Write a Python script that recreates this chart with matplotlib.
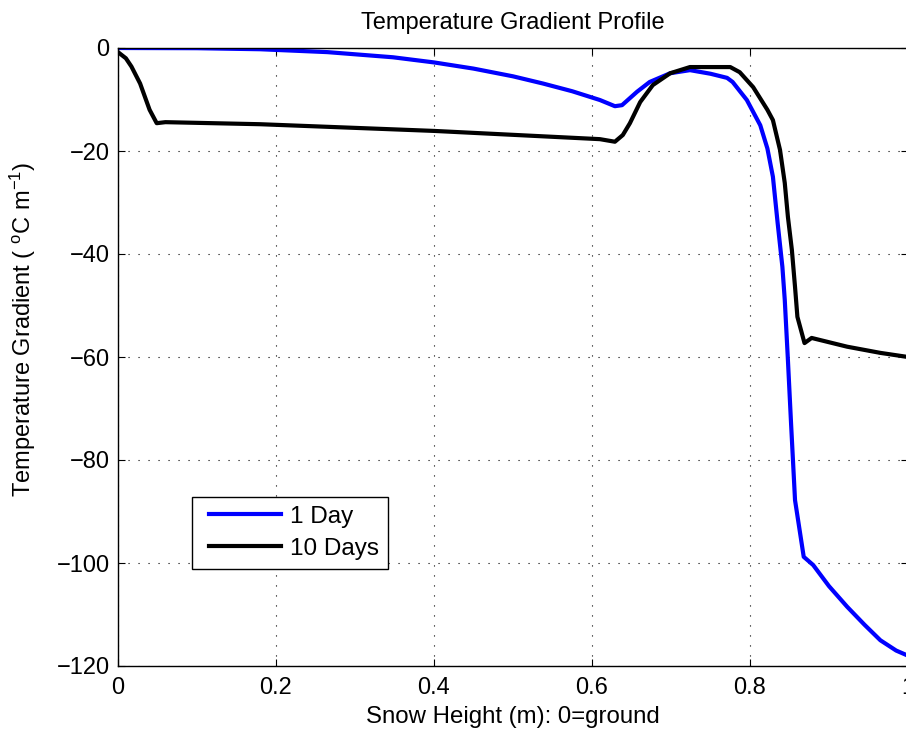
import matplotlib
matplotlib.use('Agg')
import matplotlib.pyplot as plt
from matplotlib.legend_handler import HandlerLine2D

plt.rcParams['font.family'] = ['Liberation Sans', 'DejaVu Sans']
plt.rcParams['mathtext.fontset'] = 'custom'
plt.rcParams['mathtext.rm'] = 'Liberation Sans'
plt.rcParams['mathtext.it'] = 'Liberation Sans'

# snow height (m) and gradient values
x_1day = [0, 0.1, 0.18, 0.265, 0.348, 0.4, 0.45, 0.5, 0.538, 0.575, 0.61, 0.629, 0.638,
          0.657, 0.673, 0.699, 0.724, 0.75, 0.771, 0.778, 0.796, 0.813, 0.822, 0.829,
          0.835, 0.841, 0.844, 0.848, 0.852, 0.857, 0.868, 0.88, 0.9, 0.923, 0.945,
          0.965, 0.985, 1.0]
y_1day = [0, -0.04, -0.24, -0.8, -1.8, -2.8, -4.0, -5.5, -6.9, -8.4, -10.1, -11.3, -11.1,
          -8.5, -6.6, -4.9, -4.3, -5.0, -5.8, -6.6, -10.1, -15.0, -19.5, -25.0,
          -34.0, -42.5, -48.9, -60.6, -73.0, -87.8, -98.8, -100.4, -104.5, -108.5, -112,
          -115, -117, -118]

x_10days = [0, 0.01, 0.017, 0.028, 0.04, 0.049, 0.06, 0.18, 0.4, 0.61, 0.629, 0.639,
            0.648, 0.661, 0.677, 0.699, 0.724, 0.775, 0.787, 0.804, 0.822, 0.829,
            0.838, 0.844, 0.848, 0.853, 0.857, 0.860, 0.869, 0.878, 0.923, 0.965, 1.0]
y_10days = [-0.8, -2.0, -3.6, -6.9, -12, -14.6, -14.4, -14.8, -16.1, -17.7, -18.2, -16.9,
            -14.6, -10.5, -7.2, -4.9, -3.7, -3.7, -4.7, -7.6, -12, -14.0,
            -19.8, -26.2, -32.8, -39.2, -46.4, -52.2, -57.3, -56.3, -58, -59.2, -60]

xticks = [0, 0.2, 0.4, 0.6, 0.8, 1]
xticklabels = ['0', '0.2', '0.4', '0.6', '0.8', '1']
yticks = [0, -20, -40, -60, -80, -100, -120]

fig = plt.figure(figsize=(9.06, 7.36), dpi=100)
ax = fig.add_axes([118/906, 1-666/736, 790/906, 618/736])

ax.plot(x_1day, y_1day, color='#0000ff', lw=3, label='1 Day')
ax.plot(x_10days, y_10days, color='black', lw=3, label='10 Days')

ax.set_xlim(0, 1)
ax.set_ylim(-120, 0)
ax.set_xticks(xticks)
ax.set_xticklabels(xticklabels)
ax.set_yticks(yticks)
ax.set_yticklabels(['0' if v == 0 else '\u2212%d' % abs(v) for v in yticks])
ax.tick_params(direction='in', length=5, width=0.8, top=True, right=True, labelsize=17)
ax.tick_params(axis='x', pad=8)
ax.tick_params(axis='y', pad=6)
ax.grid(True, color='black', lw=0.8, linestyle=(0, (1, 8)))
for s in ax.spines.values():
    s.set_linewidth(1.0)

ax.set_title('Temperature Gradient Profile', fontsize=17, pad=14)
ax.set_xlabel('Snow Height (m): 0=ground', fontsize=17.3, labelpad=5)
ax.set_ylabel(r'Temperature Gradient ( $^{\mathrm{o}}$C m$^{-1}$)', fontsize=17,
              ha='left', va='bottom')
ax.yaxis.set_label_coords(-0.101, (666-497)/618)

hl = HandlerLine2D(xpad=0.3)
leg = ax.legend(loc='lower left', bbox_to_anchor=(0.0937, 0.157), borderaxespad=0,
                fancybox=False, framealpha=1, edgecolor='black', fontsize=17.5,
                handlelength=3.3, borderpad=0.38, labelspacing=0.4, handletextpad=0.35,
                handler_map={ax.lines[0]: hl, ax.lines[1]: hl})
leg.get_frame().set_linewidth(1.0)

fig.savefig('out.png', dpi=100)
